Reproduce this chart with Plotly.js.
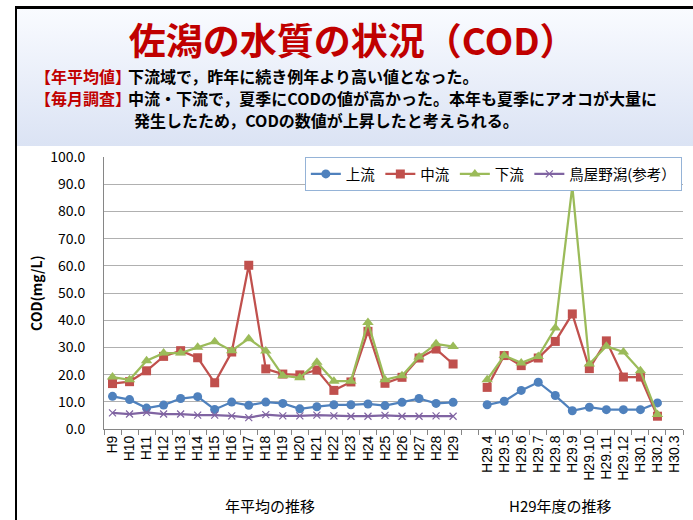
<!DOCTYPE html>
<html><head><meta charset="utf-8">
<script src="https://cdn.plot.ly/plotly-3.0.1.min.js"></script>
<style>
body{margin:0;background:#fff;}
#wrap{position:relative;width:693px;height:520px;overflow:hidden;background:#fff;}
#hdr{position:absolute;left:15px;top:6px;width:678px;height:140px;background:linear-gradient(#f9fbff,#dbe3f4);border-left:2px solid #000;border-top:3px solid #000;box-sizing:border-box;}
#lft{position:absolute;left:15px;top:146px;width:2px;height:374px;background:#000;}
#chart{position:absolute;left:0;top:0;width:693px;height:520px;}
</style></head>
<body>
<div id="wrap"><div id="hdr"></div><div id="lft"></div><div id="chart"></div></div>
<script>
const yearLabels = ['H9','H10','H11','H12','H13','H14','H15','H16','H17','H18','H19','H20','H21','H22','H23','H24','H25','H26','H27','H28','H29'];
const monthLabels = ['H29.4','H29.5','H29.6','H29.7','H29.8','H29.9','H29.10','H29.11','H29.12','H30.1','H30.2','H30.3'];
const gapLabel = [' '];

const upYear   = [12.0,10.8,7.7,8.8,11.2,11.9,7.2,9.9,8.7,9.9,9.4,7.4,8.2,8.9,8.9,9.2,8.6,9.8,11.2,9.4,9.8];
const midYear  = [16.7,17.4,21.4,26.7,28.8,26.2,17.0,28.3,60.2,22.1,20.2,19.9,21.7,14.2,17.3,35.9,16.8,19.0,26.1,29.4,23.9];
const lowYear  = [19.1,18.1,25.1,27.9,27.9,30.1,32.1,28.8,33.2,28.7,19.6,18.8,24.5,17.6,17.6,39.2,18.1,19.6,26.5,31.3,30.3];
const toyaYear = [5.9,5.5,6.1,5.5,5.5,5.1,5.1,4.8,4.2,5.3,4.8,4.8,5.1,4.8,4.7,4.7,5.0,4.7,4.7,4.8,4.7];

const upMonth  = [8.9,10.2,14.2,17.2,12.3,6.7,8.0,7.1,7.1,7.1,9.6,null];
const midMonth = [15.3,27.0,23.3,26.1,32.2,42.3,22.2,32.4,19.1,19.1,4.7,null];
const lowMonth = [18.1,27.0,24.3,26.7,37.1,89.2,23.9,30.4,28.3,21.4,5.3,null];

const seriesNames = ['上流','中流','下流','鳥屋野潟(参考）'];
const seriesColors = ['#4f81bd','#c0504d','#9bbb59','#8064a2'];

const allCats = yearLabels.concat(gapLabel, monthLabels);
const FONT = '"Noto Sans CJK JP", "Noto Sans", sans-serif';

function px(x){ return (x-104)/579; }
function py(y){ return (429-y)/272; }

const traces = [
  {x: allCats, y: upYear.concat([null], upMonth), name: seriesNames[0], mode:'lines+markers',
   line:{color:seriesColors[0], width:2.25}, marker:{symbol:'circle', size:9, color:seriesColors[0]}},
  {x: allCats, y: midYear.concat([null], midMonth), name: seriesNames[1], mode:'lines+markers',
   line:{color:seriesColors[1], width:2.25}, marker:{symbol:'square', size:9, color:seriesColors[1]}},
  {x: allCats, y: lowYear.concat([null], lowMonth), name: seriesNames[2], mode:'lines+markers',
   line:{color:seriesColors[2], width:2.25}, marker:{symbol:'triangle-up', size:10, color:seriesColors[2]}},
  {x: yearLabels, y: toyaYear, name: seriesNames[3], mode:'lines+markers',
   line:{color:seriesColors[3], width:2.25}, marker:{symbol:'x-thin-open', size:7, color:seriesColors[3], line:{color:seriesColors[3], width:1.2}}}
];
traces.forEach(t=>{ t.connectgaps=false; t.cliponaxis=false; });

function hdrText(text, x, y, color){
  return {text:text, xref:'paper', yref:'paper', x:px(x), y:py(y), xanchor:'left', yanchor:'middle',
          showarrow:false, borderpad:0, font:{family:FONT, size:16, color:color, weight:700}};
}

const layout = {
  width:693, height:520,
  paper_bgcolor:'rgba(0,0,0,0)', plot_bgcolor:'#fff',
  margin:{l:104, r:10, t:157, b:91},
  font:{family:FONT, color:'#000'},
  title:{text:'佐潟の水質の状況（COD）', x:0.509, xanchor:'center', y:1-42/520, yanchor:'middle',
         font:{family:FONT, size:37, color:'#c00000', weight:700}},
  xaxis:{type:'category', categoryorder:'array', categoryarray:allCats, range:[-0.5, allCats.length-0.5],
         tickmode:'array', tickvals:allCats, ticktext:allCats,
         tickangle:-90, tickson:'boundaries', ticks:'outside', ticklen:5, tickcolor:'#868686',
         showline:true, linecolor:'#868686', linewidth:1, showgrid:false,
         tickfont:{family:'"Liberation Sans", Arial, sans-serif', size:14, color:'#000'}},
  yaxis:{range:[0,100], dtick:10, tickformat:'.1f', ticks:'', showline:true, linecolor:'#868686', linewidth:1,
         gridcolor:'#b0b0b0', gridwidth:1, zeroline:false, ticklabelstandoff:15,
         tickfont:{family:FONT, size:14, color:'#000'}},
  showlegend:true,
  legend:{orientation:'h', x:0.998, xanchor:'right', y:1, yanchor:'top', bgcolor:'#fff',
          bordercolor:'#95b3d7', borderwidth:1, font:{family:FONT, size:14.5, color:'#000'},
          itemwidth:30, tracegroupgap:0},
  annotations:[
    hdrText('【年平均値】', 34, 76, '#c00000'),
    hdrText('下流域で，昨年に続き例年より高い値となった。', 127, 76, '#000'),
    hdrText('【毎月調査】', 34, 98, '#c00000'),
    hdrText('中流・下流で，夏季にCODの値が高かった。本年も夏季にアオコが大量に', 127, 98, '#000'),
    hdrText('発生したため，CODの数値が上昇したと考えられる。', 133, 120, '#000'),
    {text:'COD(mg/L)', textangle:-90, xref:'paper', yref:'paper', x:px(36), y:0.5, xanchor:'center', yanchor:'middle',
     showarrow:false, font:{family:FONT, size:14, color:'#000', weight:700}},
    {text:'年平均の推移', xref:'paper', yref:'paper', x:px(270), y:py(505), xanchor:'center', yanchor:'middle',
     showarrow:false, font:{family:FONT, size:15, color:'#000'}},
    {text:'H29年度の推移', xref:'paper', yref:'paper', x:px(560), y:py(505), xanchor:'center', yanchor:'middle',
     showarrow:false, font:{family:FONT, size:15, color:'#000'}}
  ]
};

Plotly.newPlot('chart', traces, layout, {displayModeBar:false, staticPlot:true});
</script>
</body></html>
